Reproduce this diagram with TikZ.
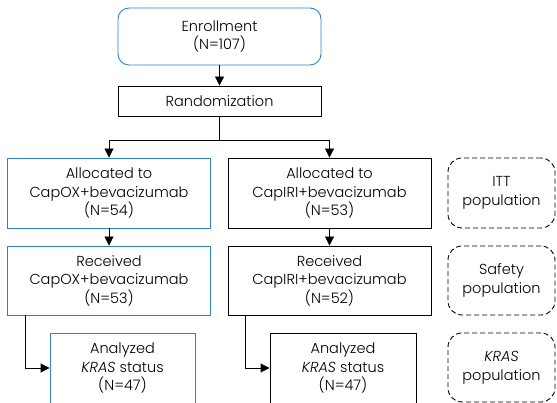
\documentclass[tikz,border=0pt]{standalone}
\usepackage{fontspec}
\setmainfont{Poppins Light}[ItalicFont={Poppins Light Italic}]
\usetikzlibrary{arrows.meta}
\definecolor{boxblue}{RGB}{48,130,200}
\begin{document}
\begin{tikzpicture}[
	x=1pt,y=-1pt,
	edge/.style={-{Triangle[length=9pt,width=9pt]},line width=0.9pt},
	line/.style={-,line width=0.9pt},
	box/.style={draw,line width=0.9pt,align=center,font=\fontsize{14.5}{18.5}\selectfont},
	bluebox/.style={box,draw=boxblue},
	popbox/.style={box,dashed,dash pattern=on 5pt off 3pt,rounded corners=14pt,minimum width=107pt}
	]
	\useasboundingbox (0,0) rectangle (557,403);
	
	\def\wide{203pt}
	\node[bluebox,rounded corners=11pt,minimum width=\wide,minimum height=57pt] (enroll) at (219.5,36.5) {Enrollment\\(N=107)};
	\node[box,minimum width=\wide,minimum height=30pt] (rand) at (219.5,101) {Randomization};
	
	\node[bluebox,minimum width=\wide,minimum height=70pt] (allocL) at (109,193) {Allocated to\\CapOX+bevacizumab\\(N=54)};
	\node[box,minimum width=\wide,minimum height=70pt] (allocR) at (329.5,193) {Allocated to\\CapIRI+bevacizumab\\(N=53)};
	\node[bluebox,minimum width=\wide,minimum height=69pt] (recvL) at (109,280.5) {Received\\CapOX+bevacizumab\\(N=53)};
	\node[box,minimum width=\wide,minimum height=69pt] (recvR) at (329.5,280.5) {Received\\CapIRI+bevacizumab\\(N=52)};
	\node[bluebox,minimum width=145pt,minimum height=70pt] (anaL) at (122.5,368) {Analyzed\\\textit{KRAS} status\\(N=47)};
	\node[box,minimum width=146pt,minimum height=70pt] (anaR) at (343,368) {Analyzed\\\textit{KRAS} status\\(N=47)};
	
	\node[popbox,minimum height=70pt] (itt) at (501.5,193) {ITT\\population};
	\node[popbox,minimum height=69pt] (safety) at (501.5,280.5) {Safety\\population};
	\node[popbox,minimum height=69pt] (kras) at (501.5,367.5) {\textit{KRAS}\\population};
	
	\coordinate (split) at (219.5,140);
	\coordinate (bendL) at (25,369);
	\coordinate (bendR) at (245,369);
	
	\draw[edge] (enroll) -- (rand);
	\draw[line] (rand) -- (split);
	\draw[edge] (split) -| (allocL);
	\draw[edge] (split) -| (allocR);
	\draw[edge] (allocL) -- (recvL);
	\draw[edge] (allocR) -- (recvR);
	\draw[edge] (recvL.south -| bendL) |- (anaL);
	\draw[edge] (recvR.south -| bendR) |- (anaR);
\end{tikzpicture}
\end{document}
